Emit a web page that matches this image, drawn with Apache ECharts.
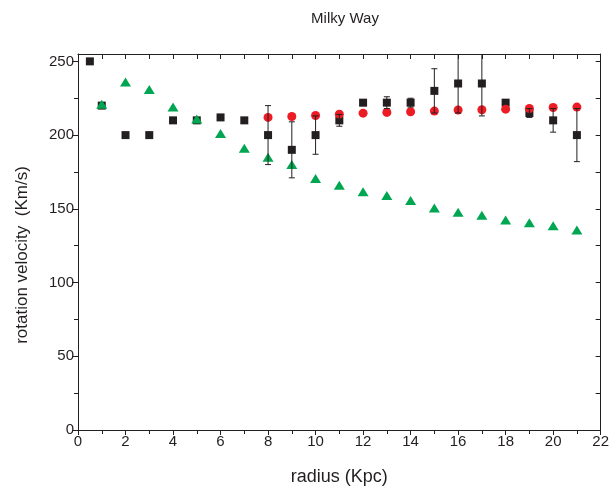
<!DOCTYPE html>
<html>
<head>
<meta charset="utf-8">
<script src="https://cdn.jsdelivr.net/npm/echarts@6/dist/echarts.min.js"></script>
<style>html,body{margin:0;padding:0;background:#fff}#c{width:612px;height:493px}</style>
</head>
<body>
<div id="c"></div>
<script>
// Observed (black squares): radius, velocity, error
const obsR   = [0.5, 1, 2, 3, 4, 5, 6, 7, 8, 9, 10, 11, 12, 13, 14, 15, 16, 17, 18, 19, 20, 21];
const obsV   = [250, 220, 200, 200, 210, 210, 212, 210, 200, 190, 200, 210, 222, 222, 222, 230, 235, 235, 222, 215, 210, 200];
const obsErr = [0, 0, 0, 0, 0, 0, 0, 0, 20, 19, 13, 4, 2, 4, 3, 15, 20, 22, 0, 3, 8, 18];
// Model (red circles)
const redR = [8, 9, 10, 11, 12, 13, 14, 15, 16, 17, 18, 19, 20, 21];
const redV = [212, 212.6, 213.3, 214.2, 214.9, 215.4, 215.8, 216.3, 217, 217.2, 217.6, 218, 218.7, 219];
// Keplerian-like (green triangles)
const greenR = [1, 2, 3, 4, 5, 6, 7, 8, 9, 10, 11, 12, 13, 14, 15, 16, 17, 18, 19, 20, 21];
const greenV = [221, 236, 231, 219, 211, 201, 191, 185, 180, 170.5, 166, 161.5, 159, 155.6, 150.6, 147.6, 145.6, 142.5, 140.6, 138.6, 135.7];
// Axis ticks
const yMajor = [0, 50, 100, 150, 200, 250];
const yMinor = [25, 75, 125, 175, 225];
const yAll = [0, 25, 50, 75, 100, 125, 150, 175, 200, 225, 250];

const C = '#231f20';
const FONT = '"Liberation Sans", Arial, sans-serif';
const zip = (a, b) => a.map((v, i) => [v, b[i]]);
const errData = obsR.map((r, i) => [r, obsV[i] - obsErr[i], obsV[i] + obsErr[i]]).filter((d, i) => obsErr[i] > 0);

const chart = echarts.init(document.getElementById('c'), null, {renderer: 'canvas'});
const lineStyle = {color: C, width: 1};
chart.setOption({
  animation: false,
  backgroundColor: '#fff',
  title: {text: 'Milky Way', left: 340, top: 6, textAlign: 'center',
    textStyle: {fontFamily: FONT, fontSize: 15, fontWeight: 'normal', color: C}},
  graphic: [{type: 'text', rotation: Math.PI / 2, x: 22, y: 255,
    style: {text: 'rotation velocity  (Km/s)', font: '17px ' + FONT, fill: C,
      textAlign: 'center', textVerticalAlign: 'middle'}}],
  grid: {left: 78, right: 10, top: 54, bottom: 63, containLabel: false},
  xAxis: [
    {type: 'value', position: 'bottom', min: 0, max: 22, interval: 2,
      name: 'radius (Kpc)', nameLocation: 'middle', nameGap: 38,
      nameTextStyle: {fontFamily: FONT, fontSize: 18, color: C},
      axisLine: {show: true, onZero: false, lineStyle},
      axisTick: {show: true, inside: false, length: 5, lineStyle},
      minorTick: {show: true, splitNumber: 2, length: 4, lineStyle},
      axisLabel: {fontFamily: FONT, fontSize: 15, color: C, margin: 4},
      splitLine: {show: false}},
    {type: 'value', position: 'top', min: 0, max: 22, interval: 1,
      axisLine: {show: true, onZero: false, lineStyle},
      axisTick: {show: true, inside: true, length: 5, lineStyle},
      axisLabel: {show: false}, splitLine: {show: false}}
  ],
  yAxis: [
    {type: 'value', position: 'left', min: 0, max: 255,
      axisLine: {show: true, onZero: false, lineStyle},
      axisTick: {show: true, inside: false, length: 6, customValues: yMajor, lineStyle},
      axisLabel: {fontFamily: FONT, fontSize: 15, color: C, margin: 4, customValues: yMajor},
      splitLine: {show: false}},
    {type: 'value', position: 'left', min: 0, max: 255,
      axisLine: {show: false},
      axisTick: {show: true, inside: false, length: 4, customValues: yMinor, lineStyle},
      axisLabel: {show: false}, splitLine: {show: false}},
    {type: 'value', position: 'right', min: 0, max: 255,
      axisLine: {show: true, onZero: false, lineStyle},
      axisTick: {show: true, inside: true, length: 5, customValues: yAll, lineStyle},
      axisLabel: {show: false}, splitLine: {show: false}}
  ],
  series: [
    {type: 'scatter', name: 'observed', data: zip(obsR, obsV), symbol: 'rect', symbolSize: 8,
      itemStyle: {color: C, opacity: 1}, z: 2},
    {type: 'scatter', name: 'model', data: zip(redR, redV), symbol: 'circle', symbolSize: 9,
      itemStyle: {color: '#ed1c24', opacity: 1}, z: 3},
    {type: 'scatter', name: 'kepler', data: zip(greenR, greenV), symbol: 'triangle', symbolSize: [11, 9],
      itemStyle: {color: '#00a651', opacity: 1}, z: 4},
    {type: 'custom', name: 'err', data: errData, clip: true, z: 5,
      encode: {x: 0, y: [1, 2]},
      renderItem: function (params, api) {
        const x = api.value(0);
        const lo = api.coord([x, api.value(1)]);
        const hi = api.coord([x, api.value(2)]);
        const w = 3;
        const st = {stroke: C, lineWidth: 1};
        return {type: 'group', children: [
          {type: 'line', shape: {x1: lo[0], y1: lo[1], x2: hi[0], y2: hi[1]}, style: st},
          {type: 'line', shape: {x1: lo[0] - w, y1: lo[1], x2: lo[0] + w, y2: lo[1]}, style: st},
          {type: 'line', shape: {x1: hi[0] - w, y1: hi[1], x2: hi[0] + w, y2: hi[1]}, style: st}
        ]};
      }}
  ]
});
</script>
</body>
</html>
